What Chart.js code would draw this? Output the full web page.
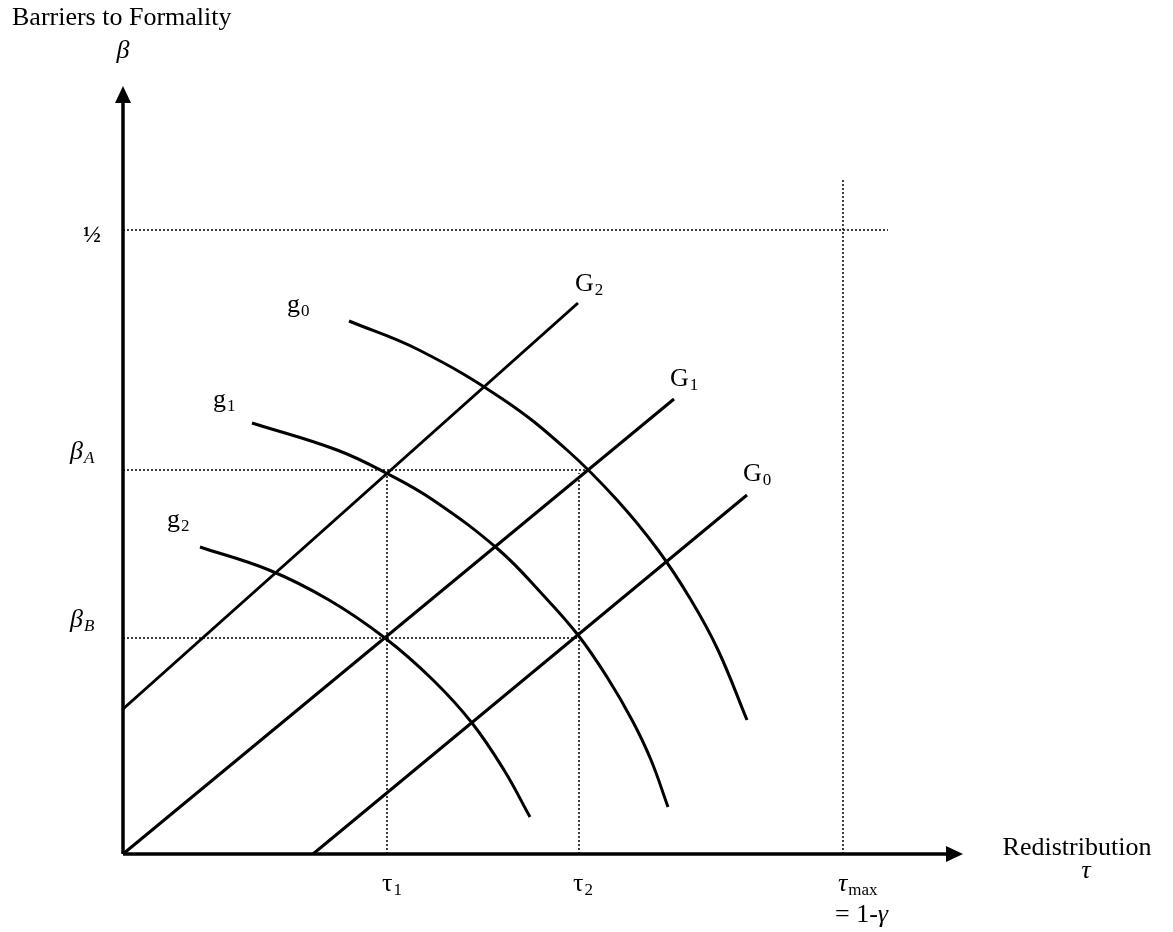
<!DOCTYPE html>
<html>
<head>
<meta charset="utf-8">
<script src="https://cdn.jsdelivr.net/npm/chart.js@4/dist/chart.umd.min.js"></script>
<style>
  html, body { margin: 0; padding: 0; background: #fff; }
  canvas { display: block; }
</style>
</head>
<body>
<canvas id="chart" width="1173" height="932"></canvas>
<script>
// values (origin = where the axes meet)
const tau1 = 264, tau2 = 456, tauMax = 720;
const betaA = 384, betaB = 216, betaHalf = 624;
const xAxisEnd = 840, yAxisEnd = 768;

const lineG2 = [[0, 145], [455, 551]];
const lineG1 = [[0, 0], [551, 455]];
const lineG0 = [[190, 0], [624, 359]];

const curve_g0 = [[226, 533], [296, 504], [381, 454], [444, 404], [494, 354], [535, 304], [568, 254], [595, 204], [624, 134]];
const curve_g1 = [[129, 431], [214, 404], [263, 381], [310, 354], [376, 304], [420, 259], [455, 219], [484, 177], [509, 134], [528, 94], [545, 47]];
const curve_g2 = [[77, 307], [146, 284], [206, 254], [262, 216], [310, 174], [349, 131], [381, 84], [407, 37]];

const pts = arr => arr.map(p => ({ x: p[0], y: p[1] }));

function solid(data, w) {
    return { data: pts(data), borderColor: '#000', borderWidth: w, showLine: true,
             pointRadius: 0, fill: false, tension: 0.4 };
}
function dotted(data) {
    return { data: pts(data), borderColor: '#000', borderWidth: 1.5, borderDash: [2, 2],
             showLine: true, pointRadius: 0, fill: false };
}

const datasets = [
    dotted([[0, betaHalf], [765, betaHalf]]),
    dotted([[tauMax, 0], [tauMax, 674]]),
    dotted([[0, betaA], [464, betaA]]),
    dotted([[0, betaB], [457, betaB]]),
    dotted([[tau1, 0], [tau1, betaA]]),
    dotted([[tau2, 0], [tau2, 381]]),
    solid(lineG2, 3),
    solid(lineG1, 3),
    solid(lineG0, 3),
    solid(curve_g0, 3),
    solid(curve_g1, 3),
    solid(curve_g2, 3),
    solid([[0, 0], [0, yAxisEnd - 14]], 3.5),
    solid([[0, 0], [xAxisEnd - 14, 0]], 3.5)
];

const SERIF = '"Liberation Serif", "Times New Roman", serif';

// text labels: [main, sub, x, y, align, main font, sub font]
const labels = [
    ['Barriers to Formality', '', -111, 829, 'left', '26px ' + SERIF],
    ['\u03B2', '', 0, 796, 'center', 'italic 26px ' + SERIF],
    ['\u00BD', '', -40, 612, 'left', 'bold 24px ' + SERIF],
    ['\u03B2', 'A', -53, 395, 'left', 'italic 26px ' + SERIF, 'italic 17px ' + SERIF],
    ['\u03B2', 'B', -53, 227, 'left', 'italic 26px ' + SERIF, 'italic 17px ' + SERIF],
    ['g', '0', 164, 542, 'left', '26px ' + SERIF, '17px ' + SERIF],
    ['g', '1', 90, 447, 'left', '26px ' + SERIF, '17px ' + SERIF],
    ['g', '2', 44, 327, 'left', '26px ' + SERIF, '17px ' + SERIF],
    ['G', '2', 452, 563, 'left', '26px ' + SERIF, '17px ' + SERIF],
    ['G', '1', 547, 468, 'left', '26px ' + SERIF, '17px ' + SERIF],
    ['G', '0', 620, 373, 'left', '26px ' + SERIF, '17px ' + SERIF],
    ['\u03C4', '1', 259, -37, 'left', '26px ' + SERIF, '17px ' + SERIF],
    ['\u03C4', '2', 450, -37, 'left', '26px ' + SERIF, '17px ' + SERIF],
    ['\u03C4', 'max', 715, -37, 'left', 'italic 26px ' + SERIF, '17px ' + SERIF],
    ['= 1-', '', 712, -68, 'left', '26px ' + SERIF],
    ['Redistribution', '', 954, -1, 'center', '26px ' + SERIF],
    ['\u03C4', '', 963, -24, 'center', 'italic 26px ' + SERIF]
];

const diagramPlugin = {
    id: 'diagram',
    afterDatasetsDraw(chart) {
        const ctx = chart.ctx;
        const xs = chart.scales.x, ys = chart.scales.y;
        const px = v => xs.getPixelForValue(v);
        const py = v => ys.getPixelForValue(v);

        ctx.save();
        ctx.fillStyle = '#000';
        // arrow heads
        const ox = px(0), oy = py(0);
        const ty = py(yAxisEnd);
        ctx.beginPath();
        ctx.moveTo(ox, ty);
        ctx.lineTo(ox - 8, ty + 17);
        ctx.lineTo(ox + 8, ty + 17);
        ctx.closePath();
        ctx.fill();
        const tx = px(xAxisEnd);
        ctx.beginPath();
        ctx.moveTo(tx, oy);
        ctx.lineTo(tx - 17, oy - 8);
        ctx.lineTo(tx - 17, oy + 8);
        ctx.closePath();
        ctx.fill();

        ctx.textBaseline = 'alphabetic';
        labels.forEach(l => {
            const [main, sub, x, y, align, font, subFont] = l;
            ctx.font = font;
            const w = ctx.measureText(main).width;
            let sx = px(x);
            let subW = 0;
            if (sub) {
                ctx.font = subFont;
                subW = ctx.measureText(sub).width;
            }
            if (align === 'center') sx -= (w + subW) / 2;
            ctx.textAlign = 'left';
            ctx.font = font;
            ctx.fillText(main, sx, py(y));
            if (sub) {
                ctx.font = subFont;
                ctx.fillText(sub, sx + w + 1, py(y) + 4);
            }
        });
        // gamma after "= 1-"
        ctx.font = '26px ' + SERIF;
        const gw = ctx.measureText('= 1-').width;
        ctx.font = 'italic 26px ' + SERIF;
        ctx.fillText('\u03B3', px(712) + gw, py(-68));
        ctx.restore();
    }
};

new Chart(document.getElementById('chart'), {
    type: 'scatter',
    data: { datasets: datasets },
    options: {
        responsive: false,
        animation: false,
        layout: { padding: 0 },
        plugins: { legend: { display: false }, tooltip: { enabled: false } },
        scales: {
            x: { type: 'linear', display: false, min: -123, max: 1050 },
            y: { type: 'linear', display: false, min: -78, max: 854 }
        }
    },
    plugins: [diagramPlugin]
});
</script>
</body>
</html>
